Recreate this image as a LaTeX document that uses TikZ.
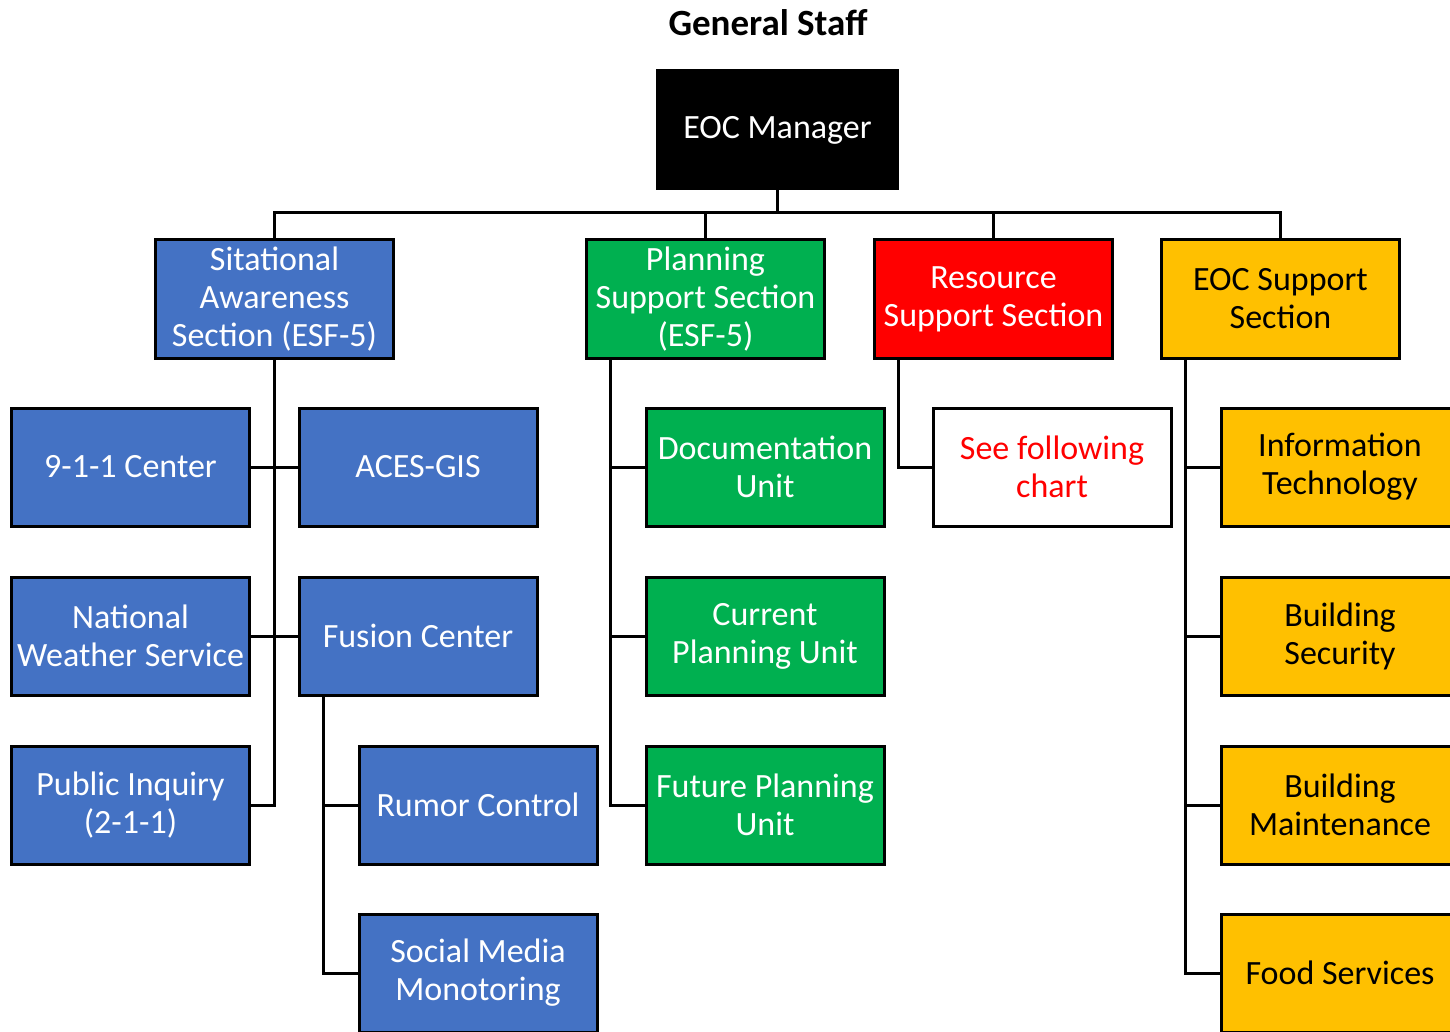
\documentclass[tikz,border=0pt]{standalone}
\usepackage{fontspec}
\setmainfont{Carlito}
\definecolor{bluebox}{HTML}{4472C4}
\definecolor{greenbox}{HTML}{00B050}
\definecolor{redbox}{HTML}{FF0000}
\definecolor{goldbox}{HTML}{FFC000}
\begin{document}
\begin{tikzpicture}[x=1pt,y=-1pt,
  orgbox/.style={draw=black, line width=3pt, minimum width=238pt, minimum height=118pt,
    align=center, inner sep=2pt, font=\fontsize{34}{38}\selectfont},
  bluenode/.style={orgbox, fill=bluebox, text=white},
  greennode/.style={orgbox, fill=greenbox, text=white},
  rednode/.style={orgbox, fill=redbox, text=white},
  goldnode/.style={orgbox, fill=goldbox, text=black},
  whitenode/.style={orgbox, fill=white, text=redbox},
  conn/.style={draw=black, line width=3pt}]
\useasboundingbox (0,0) rectangle (1450,1032);
\clip (0,0) rectangle (1450,1032);
\fill[white] (0,0) rectangle (1450,1032);
\node[font=\bfseries\fontsize{37}{40}\selectfont] (title) at (768,23) {General Staff};
\node[orgbox, fill=black, text=white, minimum width=240pt] (eoc) at (777.5,130) {EOC Manager};
\node[bluenode] (sa) at (274.5,299) {Sitational\\Awareness\\Section (ESF-5)};
\node[greennode] (pl) at (705.5,299) {Planning\\Support Section\\(ESF-5)};
\node[rednode] (rs) at (993.5,299) {Resource\\Support Section};
\node[goldnode] (es) at (1280.5,299) {EOC Support\\Section};
\node[bluenode] (c911) at (130.5,467) {9-1-1 Center};
\node[bluenode] (aces) at (418,467) {ACES-GIS};
\node[bluenode] (nws) at (130.5,636) {National\\Weather Service};
\node[bluenode] (fus) at (418,636) {Fusion Center};
\node[bluenode] (pub) at (130.5,805) {Public Inquiry\\(2-1-1)};
\node[bluenode] (rum) at (478,805) {Rumor Control};
\node[bluenode] (soc) at (478,973) {Social Media\\Monotoring};
\node[greennode] (doc) at (765,467) {Documentation\\Unit};
\node[greennode] (cur) at (765,636) {Current\\Planning Unit};
\node[greennode] (fut) at (765,805) {Future Planning\\Unit};
\node[whitenode] (see) at (1052,467) {See following\\chart};
\node[goldnode] (it) at (1340,467) {Information\\Technology};
\node[goldnode] (bs) at (1340,636) {Building\\Security};
\node[goldnode] (bm) at (1340,805) {Building\\Maintenance};
\node[goldnode] (fs) at (1340,973) {Food Services};
% top bus
\coordinate (bus) at (777.5,213);
\draw[conn] (eoc.south) -- (bus);
\draw[conn] (sa.north) |- (bus) -| (es.north);
\draw[conn] (pl.north) -- (pl.north |- bus);
\draw[conn] (rs.north) -- (rs.north |- bus);
% situational awareness
\draw[conn] (sa.south) |- (pub.east);
\draw[conn] (c911.east) -- (aces.west);
\draw[conn] (nws.east) -- (fus.west);
% fusion center
\coordinate (fusx) at ([xshift=-95pt]fus.south);
\draw[conn] (fusx) |- (soc.west);
\draw[conn] (fusx |- rum.west) -- (rum.west);
% planning
\coordinate (plx) at ([xshift=-95pt]pl.south);
\draw[conn] (plx) |- (fut.west);
\draw[conn] (plx |- doc.west) -- (doc.west);
\draw[conn] (plx |- cur.west) -- (cur.west);
% resource
\coordinate (rsx) at ([xshift=-95pt]rs.south);
\draw[conn] (rsx) |- (see.west);
% eoc support
\coordinate (esx) at ([xshift=-95pt]es.south);
\draw[conn] (esx) |- (fs.west);
\draw[conn] (esx |- it.west) -- (it.west);
\draw[conn] (esx |- bs.west) -- (bs.west);
\draw[conn] (esx |- bm.west) -- (bm.west);
\end{tikzpicture}
\end{document}
